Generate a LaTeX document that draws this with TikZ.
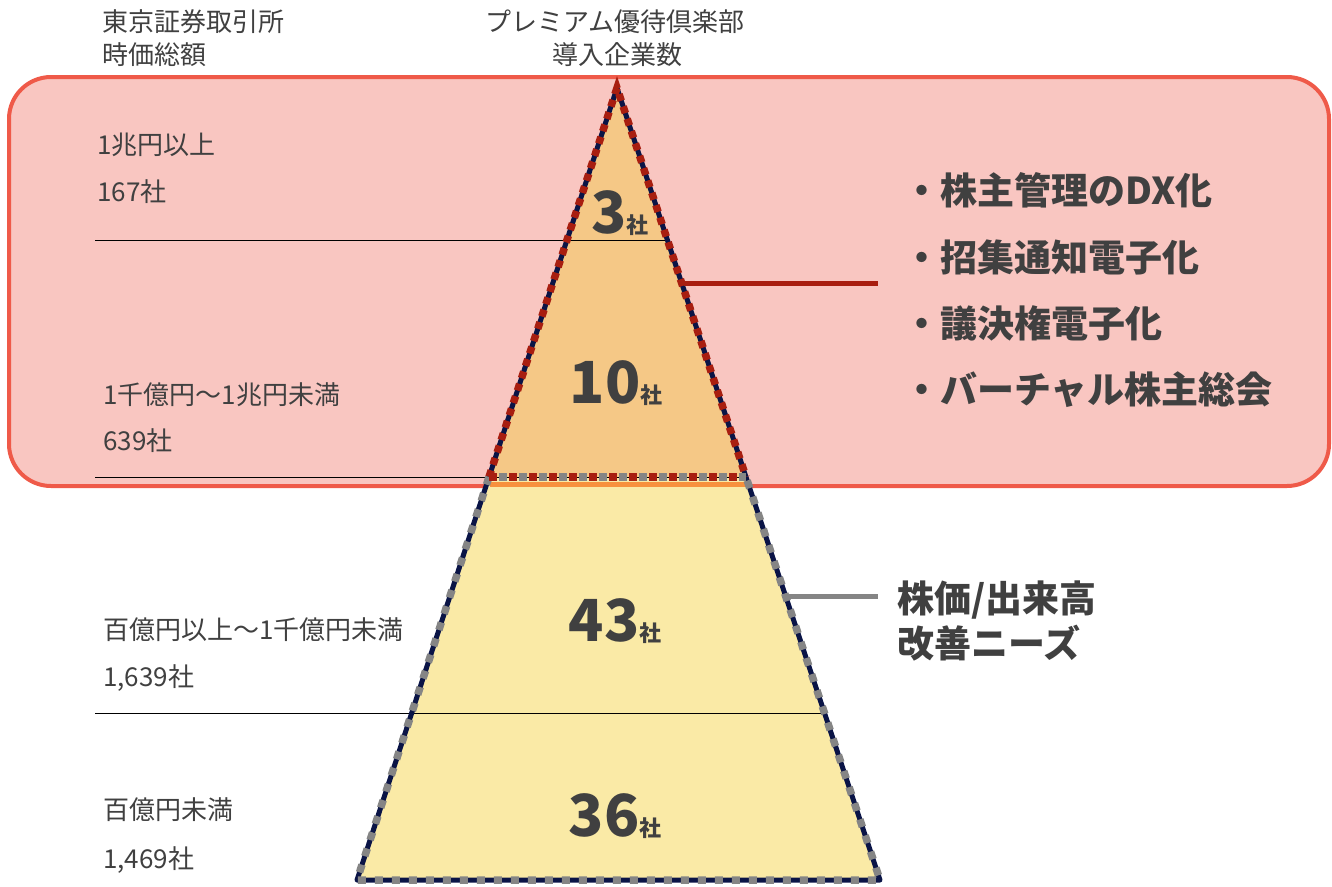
\documentclass[tikz,border=0pt]{standalone}
\usepackage{fontspec}
\setmainfont{Noto Sans CJK JP}
\usetikzlibrary{positioning}
\definecolor{txtgray}{HTML}{404040}
\definecolor{bandfill}{HTML}{F9C6C1}
\definecolor{bandline}{HTML}{EF5A49}
\definecolor{upfill}{HTML}{F5C886}
\definecolor{lowfill}{HTML}{FAEAA6}
\definecolor{stripe}{HTML}{F7913D}
\definecolor{navy}{HTML}{0A1446}
\definecolor{darkred}{HTML}{A81E10}
\definecolor{midgray}{HTML}{858585}
\newcommand{\Sha}[1]{#1{\fontsize{22}{22}\selectfont 社}}

\begin{document}
\begin{tikzpicture}[x=1pt, y=-1pt,
    lab/.style={anchor=west, inner sep=0pt, text=txtgray, font=\fontsize{26}{30}\selectfont},
    head/.style={inner sep=0pt, text=txtgray, font=\fontsize{26}{30}\selectfont},
    num/.style={anchor=base, inner sep=0pt, text=txtgray, font=\bfseries\fontsize{58}{60}\selectfont},
    item/.style={anchor=west, inner sep=0pt, text=txtgray, font=\bfseries\fontsize{37}{40}\selectfont}]

    \useasboundingbox (0,0) rectangle (1332,886);

    % band behind the top of the pyramid
    \draw[bandline, line width=4pt, rounded corners=42pt, fill=bandfill] (9,77) rectangle (1329,486);

    % pyramid
    \fill[upfill] (617,88) -- (746,477) -- (489,477) -- cycle;
    \fill[lowfill] (489,477) -- (746,477) -- (880,880) -- (357,880) -- cycle;
    \draw[stripe, line width=5pt] (490,484) -- (747,484);

    \draw (95,240) -- (666,240);
    \draw (95,477) -- (746,477);
    \draw (95,713) -- (825,713);

    \draw[navy, line width=5pt, line join=round] (489,477) -- (617,88) -- (746,477);
    \draw[darkred, line width=7.5pt, dash pattern=on 7pt off 6pt] (489,477) -- (617,88) -- (746,477);
    \draw[navy, line width=5pt, line join=round] (489,477) -- (357,880) -- (880,880) -- (746,477);
    \draw[midgray, line width=7.5pt, dash pattern=on 8pt off 9pt] (489,477) -- (357,880) -- (880,880) -- (746,477);
    \draw[darkred, line width=7.5pt, dash pattern=on 8pt off 12pt] (489,477) -- (746,477);
    \draw[midgray, line width=7.5pt, dash pattern=on 8pt off 12pt, dash phase=10pt] (489,477) -- (746,477);

    % headers
    \draw(102,22) node[lab] (h1) {東京証券取引所};
    \draw(102,55) node[lab] (h2) {時価総額};
    \draw(615,22) node[head] (h3) {プレミアム優待倶楽部};
    \draw(617,55) node[head] (h4) {導入企業数};

    % market cap tiers
    \draw(97,145) node[lab] (t1) {1兆円以上};
    \draw(97,192) node[lab] (n1) {167社};
    \draw(103,395) node[lab] (t2) {1千億円～1兆円未満};
    \draw(103,441) node[lab] (n2) {639社};
    \draw(103,630) node[lab] (t3) {百億円以上～1千億円未満};
    \draw(103,678) node[lab] (n3) {1,639社};
    \draw(103,810) node[lab] (t4) {百億円未満};
    \draw(103,860) node[lab] (n4) {1,469社};

    % counts
    \draw(620,233) node[num] (c1) {\Sha{3}};
    \draw(616,403) node[num] (c2) {\Sha{10}};
    \draw(615,641) node[num] (c3) {\Sha{43}};
    \draw(615,836) node[num] (c4) {\Sha{36}};

    % needs
    \draw(903,190) node[item] (b1) {・株主管理のDX化};
    \draw(903,257) node[item] (b2) {・招集通知電子化};
    \draw(903,323) node[item] (b3) {・議決権電子化};
    \draw(903,390) node[item] (b4) {・バーチャル株主総会};
    \draw(897,600) node[item] (p1) {株価/出来高};
    \draw(897,643) node[item] (p2) {改善ニーズ};

    \coordinate (ra) at (684,283);
    \coordinate (rb) at (878,283);
    \coordinate (ga) at (787,596);
    \coordinate (gb) at (878,596);
    \draw[darkred, line width=5pt] (ra) -- (rb);
    \draw[midgray, line width=5pt] (ga) -- (gb);

\end{tikzpicture}
\end{document}
